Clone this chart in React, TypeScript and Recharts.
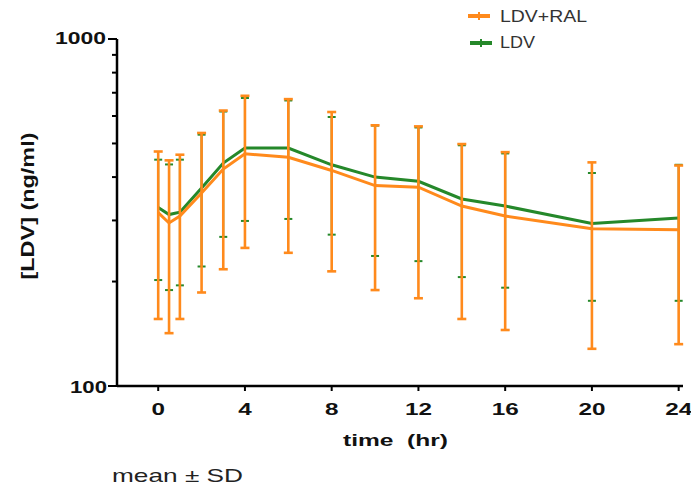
import React from "react";
import { LineChart, Line, XAxis, YAxis, ErrorBar } from "recharts";

const times = [0, 0.5, 1, 2, 3, 4, 6, 8, 10, 12, 14, 16, 20, 24];
const ralMean = [316, 295, 309, 360, 422, 467, 456, 418, 378, 374, 330, 309, 284, 282];
const ralHigh = [474, 447, 464, 536, 622, 686, 671, 616, 564, 560, 498, 472, 441, 432];
const ralLow = [156, 142, 156, 186, 217, 250, 242, 214, 189, 179, 156, 145, 128, 132];
const ldvMean = [327, 312, 317, 372, 439, 485, 485, 434, 400, 389, 346, 330, 294, 305];
const ldvHigh = [449, 435, 449, 530, 618, 676, 665, 596, 563, 556, 494, 468, 411, 434];
const ldvLow = [202, 189, 195, 221, 269, 299, 303, 273, 237, 229, 206, 192, 176, 176];

const xTicks = [0, 4, 8, 12, 16, 20, 24];
const yTicks = [100, 200, 300, 400, 500, 600, 700, 800, 900, 1000];
const yMajor = [100, 1000];

const ORANGE = "#FF8A1C";
const GREEN = "#25882A";
const FONT = "'Liberation Sans', Arial, sans-serif";

const data = times.map((t, i) => ({
  t,
  ral: ralMean[i],
  ralErr: [ralMean[i] - ralLow[i], ralHigh[i] - ralMean[i]],
  ldv: ldvMean[i],
  ldvErr: [ldvMean[i] - ldvLow[i], ldvHigh[i] - ldvMean[i]],
}));

const AXIS_X = 117;
const AXIS_Y = 386;

const YTick = (props: any) => {
  const { y, payload } = props;
  const v = payload.value;
  const major = yMajor.includes(v);
  const label = String(v);
  return (
    <g>
      <line x1={major ? AXIS_X - 9 : AXIS_X - 5} x2={AXIS_X} y1={y} y2={y} stroke="#000" strokeWidth={2} />
      {major && (
        <text
          x={v === 1000 ? 106 : 107}
          y={y}
          dy={v === 1000 ? 5 : 7}
          textAnchor="end"
          fontFamily={FONT}
          fontWeight="bold"
          fontSize={17}
          fill="#111"
          textLength={label.length === 4 ? 51 : 37}
          lengthAdjust="spacingAndGlyphs"
        >
          {label}
        </text>
      )}
    </g>
  );
};

const XTick = (props: any) => {
  const { x, payload } = props;
  const label = String(payload.value);
  return (
    <g>
      <line x1={x} x2={x} y1={AXIS_Y} y2={AXIS_Y + 5} stroke="#000" strokeWidth={2} />
      <text
        x={x}
        y={415}
        textAnchor="middle"
        fontFamily={FONT}
        fontWeight="bold"
        fontSize={17}
        fill="#111"
        textLength={13.5 * label.length}
        lengthAdjust="spacingAndGlyphs"
      >
        {label}
      </text>
    </g>
  );
};

export default function App() {
  return (
    <div style={{ position: "absolute", left: 0, top: 0, width: 691, height: 491, background: "#fff" }}>
      <LineChart
        width={691}
        height={491}
        data={data}
        margin={{ top: 39, right: 8, left: 0, bottom: 65 }}
      >
        <XAxis
          dataKey="t"
          type="number"
          domain={[-1.9, 24.2]}
          ticks={xTicks}
          allowDataOverflow
          height={40}
          axisLine={{ stroke: "#000", strokeWidth: 2.5 }}
          tickLine={false}
          tick={<XTick />}
          interval={0}
        />
        <YAxis
          type="number"
          scale="log"
          domain={[100, 1000]}
          ticks={yTicks}
          allowDataOverflow
          width={117}
          axisLine={{ stroke: "#000", strokeWidth: 2.5 }}
          tickLine={false}
          tick={<YTick />}
          interval={0}
        />
        <Line
          dataKey="ldv"
          stroke={GREEN}
          strokeWidth={3}
          dot={false}
          isAnimationActive={false}
        >
          <ErrorBar dataKey="ldvErr" direction="y" stroke={GREEN} strokeWidth={2} width={4} />
        </Line>
        <Line
          dataKey="ral"
          stroke={ORANGE}
          strokeWidth={3}
          dot={false}
          isAnimationActive={false}
        >
          <ErrorBar dataKey="ralErr" direction="y" stroke={ORANGE} strokeWidth={2.6} width={4.5} />
        </Line>
      </LineChart>
      <svg
        width={691}
        height={491}
        style={{ position: "absolute", left: 0, top: 0, pointerEvents: "none" }}
      >
        <text
          x={343}
          y={446}
          fontFamily={FONT}
          fontWeight="bold"
          fontSize={17}
          fill="#111"
          textLength={105}
          lengthAdjust="spacingAndGlyphs"
          style={{ whiteSpace: "pre" }}
        >
          {"time  (hr)"}
        </text>
        <text
          x={112}
          y={482}
          fontFamily={FONT}
          fontSize={19}
          fill="#222"
          textLength={131}
          lengthAdjust="spacingAndGlyphs"
        >
          mean ± SD
        </text>
        <text
          transform="translate(34, 206) rotate(-90)"
          textAnchor="middle"
          fontFamily={FONT}
          fontWeight="bold"
          fontSize={19}
          fill="#111"
          textLength={147}
          lengthAdjust="spacingAndGlyphs"
        >
          [LDV] (ng/ml)
        </text>
        <g>
          <line x1={468} x2={490} y1={16} y2={16} stroke={ORANGE} strokeWidth={4} />
          <line x1={479} x2={479} y1={12} y2={20} stroke={ORANGE} strokeWidth={2} />
          <text
            x={500}
            y={22}
            fontFamily={FONT}
            fontSize={16}
            fill="#333"
            textLength={87}
            lengthAdjust="spacingAndGlyphs"
          >
            LDV+RAL
          </text>
          <line x1={470} x2={492} y1={43} y2={43} stroke={GREEN} strokeWidth={4} />
          <line x1={481} x2={481} y1={39} y2={47} stroke={GREEN} strokeWidth={2} />
          <text
            x={500}
            y={48}
            fontFamily={FONT}
            fontSize={16}
            fill="#333"
            textLength={35}
            lengthAdjust="spacingAndGlyphs"
          >
            LDV
          </text>
        </g>
      </svg>
    </div>
  );
}
